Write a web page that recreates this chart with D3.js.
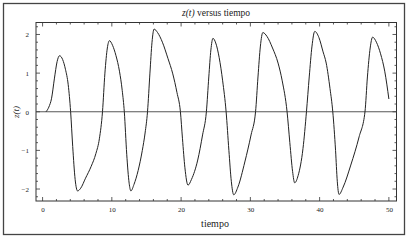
<!doctype html>
<html lang="es">
<head>
  <meta charset="utf-8">
  <title>z(t) versus tiempo</title>
  <script type="text/javascript" src="https://cdnjs.cloudflare.com/ajax/libs/d3/7.8.5/d3.min.js"></script>
  <style>
    body { margin: 0; background: #fff; }
    text { font-family: "Liberation Serif", "DejaVu Serif", serif; fill: #222; }
  </style>
</head>
<body>
  <svg width="410" height="240" id="svg"></svg>
</body>
<script type="text/javascript">

  // values
  var tiempo = [0.5, 0.9, 1.3, 1.7, 2.1, 2.45, 2.9, 3.3, 3.7, 4.05, 4.35, 4.7, 5.05, 5.5, 6.2, 7.0, 7.7, 8.2, 8.65,
    9.0, 9.35, 9.65, 10.1, 10.6, 11.1, 11.5, 11.8, 12.15, 12.5, 12.75, 13.2, 13.8, 14.4, 14.8, 15.15,
    15.5, 15.8, 16.1, 16.6, 17.3, 18.1, 18.8, 19.4, 19.9, 20.2, 20.55, 21.0, 21.5, 22.4, 23.1, 23.65,
    24.0, 24.3, 24.6, 25.0, 25.5, 26.0, 26.5, 26.9, 27.25, 27.6, 28.2, 29.2, 30.1, 30.75,
    31.1, 31.45, 31.8, 32.4, 33.2, 34.0, 34.6, 35.3, 35.7, 36.1, 36.4, 36.9, 37.6, 38.1,
    38.5, 38.9, 39.3, 39.9, 40.5, 40.95, 41.5, 41.9, 42.3, 42.55, 42.8, 43.4, 44.5, 45.7, 46.55,
    46.9, 47.3, 47.65, 48.2, 48.8, 49.4, 50.0];
  var z = [0, 0.12, 0.35, 0.85, 1.3, 1.45, 1.35, 1.1, 0.7, 0, -0.9, -1.75, -2.05, -1.98, -1.72, -1.42, -1.08, -0.7, 0,
    1.0, 1.65, 1.84, 1.72, 1.45, 1.05, 0.55, 0, -1.1, -1.85, -2.05, -1.88, -1.52, -1.0, -0.55, 0,
    1.0, 1.8, 2.14, 2.05, 1.8, 1.38, 0.98, 0.5, 0, -0.7, -1.45, -1.9, -1.75, -1.25, -0.6, 0,
    0.9, 1.6, 1.9, 1.78, 1.4, 0.8, 0, -1.0, -1.8, -2.15, -1.95, -1.3, -0.6, 0,
    0.9, 1.7, 2.05, 1.95, 1.65, 1.26, 0.8, 0, -0.8, -1.55, -1.84, -1.65, -0.95, 0,
    0.9, 1.7, 2.08, 1.92, 1.55, 1.26, 0.6, 0, -1.0, -1.8, -2.14, -1.95, -1.38, -0.65, 0,
    0.9, 1.65, 1.93, 1.8, 1.5, 1.05, 0.33];

  var xTicks = [0, 10, 20, 30, 40, 50];
  var yTicks = [-2, -1, 0, 1, 2];

  var puntos = tiempo.map(function(t, i) { return {t: t, z: z[i]}; });

  var svg = d3.select('#svg');

  // outer frame
  svg.append('rect')
    .attr('x', 3.5).attr('y', 3.5)
    .attr('width', 401).attr('height', 231)
    .attr('fill', 'none')
    .attr('stroke', '#444')
    .attr('stroke-width', 1.3);

  // plot box (window.top is read-only, so no "top" here)
  var pL = 36, pR = 396.5, pT = 22.5, pB = 201;

  var x = d3.scaleLinear().domain([-0.95, 51.1]).range([pL, pR]);
  var y = d3.scaleLinear().domain([-2.31, 2.31]).range([pB, pT]);

  // minor ticks every 2 on x, every 0.2 on y
  var xMinor = d3.range(0, 51, 2).filter(function(d) { return d % 10 !== 0; });
  var yMinor = d3.range(-22, 23, 2).map(function(d) { return d / 10; })
    .filter(function(d) { return Math.abs(d - Math.round(d)) > 1e-6; });

  var axisX = d3.axisBottom(x).tickValues(xTicks).tickSize(0).tickPadding(6);
  var axisY = d3.axisLeft(y).tickValues(yTicks).tickSize(0).tickPadding(7)
    .tickFormat(function(d) { return d < 0 ? '\u2212' + Math.abs(d) : d; });

  var gx = svg.append('g').attr('transform', 'translate(0,' + pB + ')').call(axisX);
  var gy = svg.append('g').attr('transform', 'translate(' + pL + ',0)').call(axisY);
  gx.select('.domain').remove();
  gy.select('.domain').remove();
  svg.selectAll('.tick text')
    .attr('font-family', '"DejaVu Sans", sans-serif')
    .attr('font-size', 7)
    .attr('fill', '#333');

  var tg = svg.append('g').attr('stroke', '#333').attr('stroke-width', 0.8);
  function vTicks(vals, len) {
    vals.forEach(function(v) {
      tg.append('line').attr('x1', x(v)).attr('x2', x(v)).attr('y1', pB).attr('y2', pB - len);
      tg.append('line').attr('x1', x(v)).attr('x2', x(v)).attr('y1', pT).attr('y2', pT + len);
    });
  }
  function hTicks(vals, len) {
    vals.forEach(function(v) {
      tg.append('line').attr('y1', y(v)).attr('y2', y(v)).attr('x1', pL).attr('x2', pL + len);
      tg.append('line').attr('y1', y(v)).attr('y2', y(v)).attr('x1', pR).attr('x2', pR - len);
    });
  }
  vTicks(xTicks, 4);
  vTicks(xMinor, 2);
  hTicks(yTicks, 4);
  hTicks(yMinor, 2);

  // plot frame
  svg.append('rect')
    .attr('x', pL).attr('y', pT)
    .attr('width', pR - pL).attr('height', pB - pT)
    .attr('fill', 'none')
    .attr('stroke', '#333')
    .attr('stroke-width', 1);

  // zero line
  svg.append('line')
    .attr('x1', pL).attr('x2', pR)
    .attr('y1', y(0)).attr('y2', y(0))
    .attr('stroke', '#444')
    .attr('stroke-width', 0.9);

  var line = d3.line()
    .x(function(d) { return x(d.t); })
    .y(function(d) { return y(d.z); })
    .curve(d3.curveMonotoneX);

  svg.append('path')
    .datum(puntos)
    .attr('d', line)
    .attr('fill', 'none')
    .attr('stroke', '#222')
    .attr('stroke-width', 1);

  // title and labels
  var title = svg.append('text')
    .attr('x', 216).attr('y', 16)
    .attr('text-anchor', 'middle')
    .attr('font-size', 9.5);
  title.append('tspan').attr('font-style', 'italic').text('z(t)');
  title.append('tspan').text(' versus tiempo');

  svg.append('text')
    .attr('x', 215).attr('y', 227)
    .attr('text-anchor', 'middle')
    .attr('font-size', 10)
    .text('tiempo');

  svg.append('text')
    .attr('transform', 'translate(19,112) rotate(-90)')
    .attr('text-anchor', 'middle')
    .attr('font-size', 9)
    .attr('font-style', 'italic')
    .text('z(t)');

</script>
</html>
